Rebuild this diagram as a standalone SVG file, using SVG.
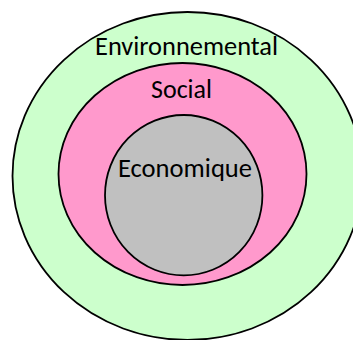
<svg xmlns="http://www.w3.org/2000/svg" width="353" height="340" viewBox="0 0 353 340">
<style>
.ring{stroke:#000;stroke-width:1.8}
.lbl{font-family:Calibri,Carlito,"Liberation Sans",sans-serif;font-size:26px;fill:#000;text-anchor:middle}
</style>
<rect width="353" height="340" fill="#fff"/>
<g id="environnemental">
<ellipse class="ring" cx="187.5" cy="176" rx="175" ry="164" fill="#CCFFCC"/>
<text class="lbl" x="186.5" y="55" textLength="183" lengthAdjust="spacingAndGlyphs">Environnemental</text>
</g>
<g id="social">
<ellipse class="ring" cx="182.5" cy="174" rx="124" ry="111" fill="#FF99CC"/>
<text class="lbl" x="181.5" y="98" textLength="61" lengthAdjust="spacingAndGlyphs">Social</text>
</g>
<g id="economique">
<ellipse class="ring" cx="183.7" cy="195.2" rx="78.7" ry="80.2" fill="#C0C0C0"/>
<text class="lbl" x="185" y="177" textLength="134" lengthAdjust="spacingAndGlyphs">Economique</text>
</g>
<g id="connectors"/>
</svg>
